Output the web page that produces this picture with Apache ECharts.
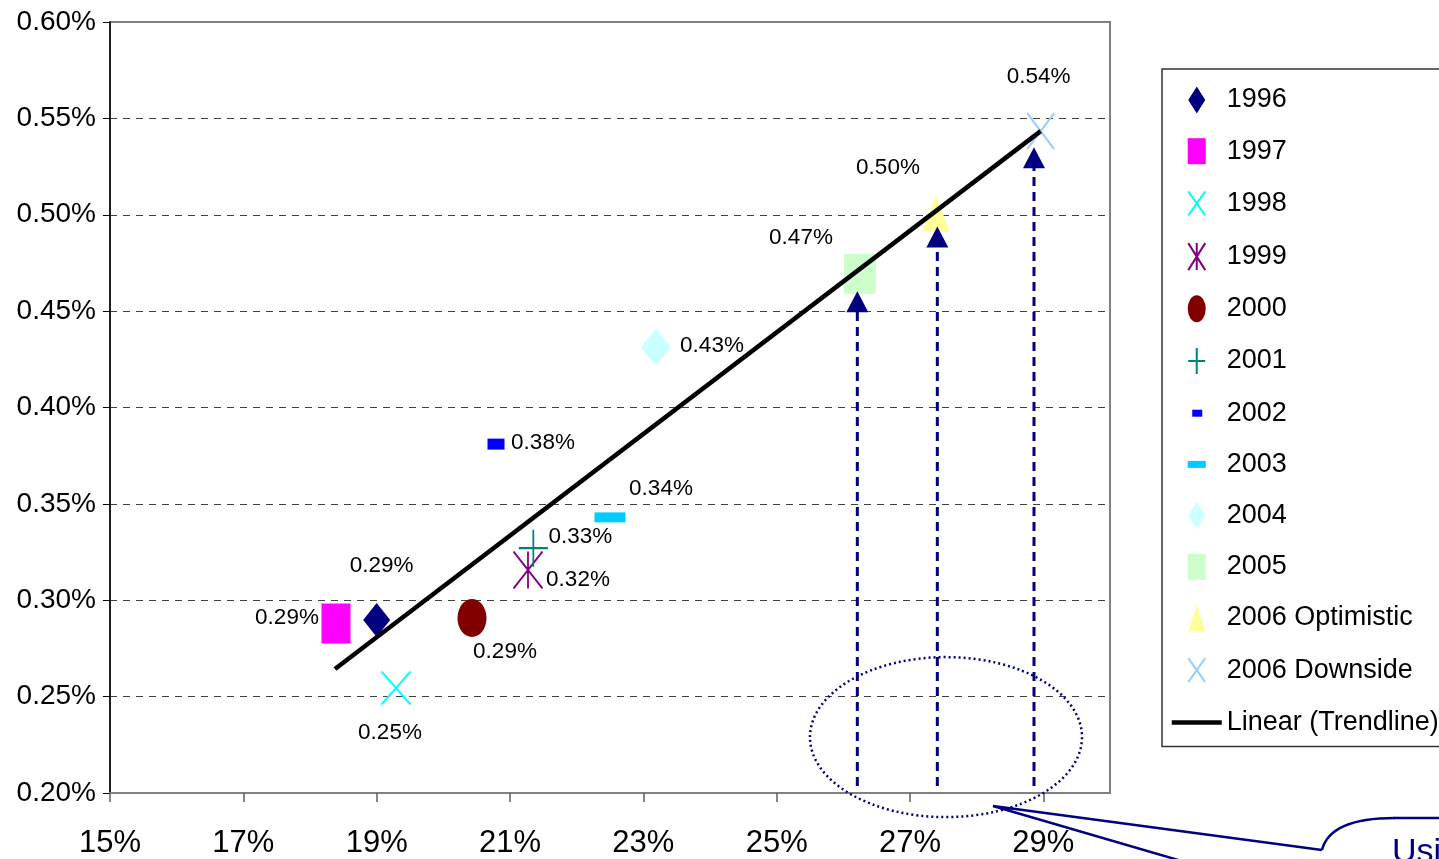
<!DOCTYPE html>
<html>
<head>
<meta charset="utf-8">
<script src="https://cdn.jsdelivr.net/npm/echarts@6/dist/echarts.min.js"></script>
<style>
  html, body { margin: 0; padding: 0; background: #ffffff; }
  #chart { width: 1439px; height: 859px; }
</style>
</head>
<body>
<div id="chart"></div>
<script>
// Year series: x = first value (%), y = second value (%)
const seriesNames = ['1996', '1997', '1998', '1999', '2000', '2001', '2002', '2003', '2004', '2005', '2006 Optimistic', '2006 Downside'];
const xValues = [19.00, 18.39, 19.29, 21.27, 20.43, 21.35, 20.79, 22.50, 23.19, 26.25, 27.39, 28.96];
const yValues = [0.2897, 0.2880, 0.2545, 0.3157, 0.2908, 0.3270, 0.3810, 0.3430, 0.4313, 0.4692, 0.5008, 0.5434];

// Linear trendline end points
const trendName = 'Linear (Trendline)';
const trendX = [18.375, 28.96];
const trendY = [0.2643, 0.5434];

// Projection arrows rising from the x axis
const arrowX = [26.21, 27.41, 28.86];
const arrowTop = [0.4549, 0.4884, 0.5296];
const arrowBase = 0.2036;

// Dotted ring around the projection arrows (centre and radii in axis units)
const ringCenter = [27.54, 0.229];
const ringRadius = [2.04, 0.0415];

// Axis ticks
const xTicks = [15, 17, 19, 21, 23, 25, 27, 29];
const yTicks = [0.20, 0.25, 0.30, 0.35, 0.40, 0.45, 0.50, 0.55, 0.60];

// ---- styling ----
const FONT = 'Liberation Sans, Arial, sans-serif';
const NAVY = '#000080';

const X_PATH = 'path://M0 0L10 10M10 0L0 10';
const STAR_PATH = 'path://M0 0L10 10M10 0L0 10M5 0L5 10';
const PLUS_PATH = 'path://M0 5L10 5M5 0L5 10';

const markerStyles = [
  { symbol: 'diamond', size: [27, 34], fill: '#000080' },
  { symbol: 'rect', size: [29, 40], fill: '#FF00FF' },
  { symbol: X_PATH, size: [29, 33], stroke: '#00FFFF' },
  { symbol: STAR_PATH, size: [29, 37], stroke: '#800080' },
  { symbol: 'circle', size: [29, 38], fill: '#800000' },
  { symbol: PLUS_PATH, size: [29, 37], stroke: '#008080' },
  { symbol: 'rect', size: [17, 11], fill: '#0000FF' },
  { symbol: 'rect', size: [31, 10], fill: '#00CCFF' },
  { symbol: 'diamond', size: [30, 38], fill: '#CCFFFF' },
  { symbol: 'rect', size: [32, 40], fill: '#CCFFCC' },
  { symbol: 'triangle', size: [27, 37], fill: '#FFFF99' },
  { symbol: X_PATH, size: [27, 36], stroke: '#99CCFF' }
];

// Legend glyphs, drawn in a 50 x 27 frame
const FRAME = 'M0 0M50 27';
const legendIcons = [
  'path://' + FRAME + 'M25 0L33.5 13.5L25 27L16.5 13.5Z',
  'path://' + FRAME + 'M16 0.5H34V26.5H16Z',
  'path://' + FRAME + 'M16.5 1.5L33.5 25.5M33.5 1.5L16.5 25.5',
  'path://' + FRAME + 'M16.5 0L33.5 27M33.5 0L16.5 27M25 0L25 27',
  'path://' + FRAME + 'M16 13.5A9 13.5 0 1 0 34 13.5A9 13.5 0 1 0 16 13.5Z',
  'path://' + FRAME + 'M16.5 13.5H33.5M25 0.5V26.5',
  'path://' + FRAME + 'M20.5 10H30.5V17H20.5Z',
  'path://' + FRAME + 'M16 10H34V17H16Z',
  'path://' + FRAME + 'M25 0L33.5 13.5L25 27L16.5 13.5Z',
  'path://' + FRAME + 'M16 0.5H34V26.5H16Z',
  'path://' + FRAME + 'M25 0L33.5 27H16.5Z',
  'path://' + FRAME + 'M16.5 1.5L33.5 25.5M33.5 1.5L16.5 25.5'
];

// Value label offsets from each marker centre (px)
const labelOffsets = [
  [5, -54], [-49, -6], [-6, 45], [50, 10], [33, 34], [47, -11],
  [47, -1], [51, -29], [56, -1], [-59, -36], [-48, -45], [-2, -54]
];

const pct = v => v.toFixed(2) + '%';

const scatterSeries = seriesNames.map((name, i) => {
  const st = markerStyles[i];
  const itemStyle = st.stroke
    ? { color: 'rgba(0,0,0,0)', borderColor: st.stroke, borderWidth: 2, opacity: 1 }
    : { color: st.fill, opacity: 1 };
  return {
    name: name,
    type: 'scatter',
    symbol: st.symbol,
    symbolSize: st.size,
    symbolKeepAspect: false,
    itemStyle: itemStyle,
    emphasis: { disabled: true },
    label: {
      show: true,
      position: 'inside',
      offset: labelOffsets[i],
      formatter: p => pct(p.value[1]),
      fontFamily: FONT,
      fontSize: 22.5,
      color: '#000000',
      opacity: 1
    },
    data: [[xValues[i], yValues[i]]],
    z: 2
  };
});

const arrowLineSeries = arrowX.map((x, i) => ({
  type: 'line',
  silent: true,
  symbol: 'none',
  lineStyle: { color: NAVY, width: 3, type: [9, 6], opacity: 1 },
  data: [[x, arrowBase], [x, arrowTop[i]]],
  z: 3
}));

const arrowHeadSeries = {
  type: 'scatter',
  silent: true,
  symbol: 'triangle',
  symbolSize: [22, 21],
  symbolKeepAspect: false,
  itemStyle: { color: NAVY, opacity: 1 },
  data: arrowX.map((x, i) => [x, arrowTop[i]]),
  z: 3
};

const trendSeries = {
  name: trendName,
  type: 'line',
  symbol: 'none',
  lineStyle: { color: '#000000', width: 4.5 },
  itemStyle: { color: '#000000' },
  data: trendX.map((x, i) => [x, trendY[i]]),
  z: 4
};

const ringSeries = {
  type: 'custom',
  silent: true,
  clip: false,
  data: [ringCenter],
  renderItem: (params, api) => {
    const c = api.coord([ringCenter[0], ringCenter[1]]);
    const e = api.coord([ringCenter[0] + ringRadius[0], ringCenter[1] + ringRadius[1]]);
    return {
      type: 'ellipse',
      shape: { cx: c[0], cy: c[1], rx: e[0] - c[0], ry: c[1] - e[1] },
      style: { fill: 'none', stroke: NAVY, lineWidth: 2.5, lineDash: [2, 3] }
    };
  },
  z: 5
};

const chart = echarts.init(document.getElementById('chart'), null, { renderer: 'canvas' });

chart.setOption({
  animation: false,
  backgroundColor: '#ffffff',
  grid: {
    left: 110, right: 329, top: 22, bottom: 66,
    show: true, borderColor: '#808080', borderWidth: 2, backgroundColor: 'transparent'
  },
  xAxis: {
    type: 'value',
    min: 15, max: 30, interval: 2,
    axisLine: { show: true, lineStyle: { color: '#808080', width: 2 } },
    axisTick: { show: true, length: 9, customValues: xTicks, lineStyle: { color: '#606060', width: 1.5 } },
    axisLabel: {
      customValues: xTicks,
      formatter: v => v + '%',
      fontFamily: FONT, fontSize: 31, color: '#000000', margin: 35
    },
    splitLine: { show: false }
  },
  yAxis: {
    type: 'value',
    min: 0.2, max: 0.6, interval: 0.05,
    axisLine: { show: true, lineStyle: { color: '#000000', width: 1.5 } },
    axisTick: { show: true, length: 7, customValues: yTicks, lineStyle: { color: '#000000', width: 1 } },
    axisLabel: {
      customValues: yTicks,
      formatter: v => pct(v),
      fontFamily: FONT, fontSize: 28, color: '#000000', margin: 14
    },
    splitLine: {
      show: true, showMinLine: false, showMaxLine: false,
      lineStyle: { color: '#404040', width: 1, type: [7, 6] }
    }
  },
  legend: {
    orient: 'vertical',
    left: 1162, top: 69,
    padding: [17.5, 30, 10.5, 7.5],
    itemWidth: 50, itemHeight: 27, itemGap: 24.2,
    symbolKeepAspect: true,
    borderColor: '#333333', borderWidth: 1.5,
    backgroundColor: '#ffffff',
    selectedMode: false,
    textStyle: { fontFamily: FONT, fontSize: 27, color: '#000000', lineHeight: 27 },
    data: seriesNames.map((n, i) => ({ name: n, icon: legendIcons[i] })).concat([
      {
        name: trendName,
        itemStyle: { color: 'rgba(0,0,0,0)', borderWidth: 0 },
        lineStyle: { color: '#000000', width: 4.5 }
      }
    ])
  },
  graphic: [
    // callout pointing at the ringed projections
    { type: 'polyline', silent: true, z: 10,
      shape: { points: [[1322, 850], [993, 806], [1185, 862]] },
      style: { fill: 'none', stroke: NAVY, lineWidth: 2.5 } },
    { type: 'bezierCurve', silent: true, z: 10,
      shape: { x1: 1322, y1: 850, cpx1: 1330, cpy1: 818, x2: 1395, y2: 818 },
      style: { fill: 'none', stroke: NAVY, lineWidth: 2.5 } },
    { type: 'line', silent: true, z: 10,
      shape: { x1: 1394, y1: 818, x2: 1445, y2: 818 },
      style: { stroke: NAVY, lineWidth: 2.5 } },
    { type: 'text', silent: true, z: 10, left: 1392, top: 836,
      style: { text: 'Using', fontFamily: FONT, fontSize: 34, fill: NAVY } }
  ],
  series: scatterSeries.concat(arrowLineSeries, [arrowHeadSeries, ringSeries, trendSeries])
});
</script>
</body>
</html>
